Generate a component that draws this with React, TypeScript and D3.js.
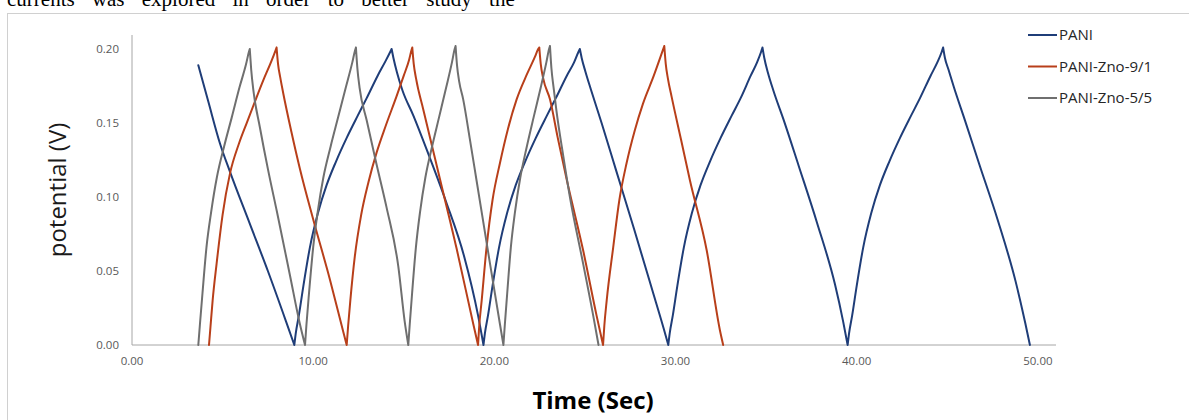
import React from "react";
import * as d3 from "d3";

const HEADER_TEXT = "currents was explored in order to better study the";

const X_TICKS = [0, 10, 20, 30, 40, 50];
const Y_TICKS = [0, 0.05, 0.1, 0.15, 0.2];

const SERIES_NAMES = ["PANI", "PANI-Zno-9/1", "PANI-Zno-5/5"];
const SERIES_COLORS = ["#1F3D78", "#B83F1A", "#6F6F6F"];

const PANI_T = [
  3.66, 4.2, 4.86, 5.41, 6.5, 7.5, 8.5, 8.96,
  9.04, 9.21, 9.46, 9.82, 10.26, 10.74, 11.26, 11.85, 12.46, 12.96, 13.56, 14.0, 14.25, 14.33,
  14.43, 14.63, 14.93, 15.53, 16.33, 17.33, 18.33, 19.1, 19.4,
  19.48, 19.65, 19.9, 20.26, 20.7, 21.18, 21.7, 22.29, 22.9, 23.4, 24.0, 24.4, 24.64, 24.72,
  24.82, 25.02, 25.32, 25.92, 26.72, 27.72, 28.72, 29.35, 29.6,
  29.68, 29.85, 30.1, 30.46, 30.9, 31.38, 31.9, 32.49, 33.1, 33.6, 34.15, 34.5, 34.72, 34.8,
  34.9, 35.1, 35.4, 36.0, 36.8, 37.8, 38.8, 39.25, 39.5,
  39.58, 39.75, 40.0, 40.36, 40.8, 41.28, 41.8, 42.39, 43.0, 43.5, 44.08, 44.45, 44.69, 44.77,
  44.87, 45.07, 45.37, 45.97, 46.77, 47.77, 48.77, 49.3, 49.56,
];
const PANI_V = [
  0.189, 0.165, 0.136, 0.117, 0.082, 0.05, 0.016, 0,
  0.008, 0.02, 0.04, 0.066, 0.089, 0.108, 0.124, 0.14, 0.155, 0.167, 0.182, 0.192, 0.198, 0.2,
  0.194, 0.184, 0.172, 0.155, 0.13, 0.097, 0.06, 0.02, 0,
  0.008, 0.02, 0.04, 0.066, 0.089, 0.108, 0.124, 0.14, 0.155, 0.167, 0.182, 0.191, 0.198, 0.2,
  0.194, 0.185, 0.173, 0.15, 0.118, 0.078, 0.037, 0.011, 0,
  0.008, 0.02, 0.04, 0.066, 0.089, 0.108, 0.124, 0.14, 0.155, 0.167, 0.182, 0.191, 0.198, 0.201,
  0.194, 0.184, 0.172, 0.151, 0.121, 0.083, 0.041, 0.016, 0,
  0.008, 0.02, 0.04, 0.066, 0.089, 0.108, 0.124, 0.14, 0.155, 0.167, 0.182, 0.191, 0.198, 0.201,
  0.194, 0.186, 0.174, 0.152, 0.122, 0.085, 0.043, 0.015, 0,
];

const ZNO91_T = [
  4.25, 4.33, 4.45, 4.67, 5.0, 5.41, 5.9, 6.33, 6.8, 7.25, 7.7, 7.92, 7.98,
  8.06, 8.18, 8.35, 8.8, 9.27, 10.0, 10.93, 11.66, 11.85,
  11.93, 12.05, 12.3, 12.65, 13.05, 13.5, 14.0, 14.6, 15.0, 15.3, 15.42, 15.47,
  15.55, 15.68, 16.08, 16.55, 17.0, 17.92, 18.84, 19.1,
  19.16, 19.3, 19.57, 19.9, 20.31, 20.75, 21.23, 21.8, 22.25, 22.42, 22.48,
  22.56, 22.7, 23.07, 23.5, 23.99, 24.9, 25.64, 26.0,
  26.07, 26.2, 26.56, 26.9, 27.3, 27.75, 28.2, 28.8, 29.15, 29.32, 29.38,
  29.46, 29.58, 29.78, 30.3, 30.8, 31.72, 32.45, 32.63,
];
const ZNO91_V = [
  0, 0.012, 0.03, 0.055, 0.088, 0.116, 0.136, 0.15, 0.165, 0.179, 0.192, 0.199, 0.201,
  0.19, 0.181, 0.17, 0.144, 0.119, 0.085, 0.044, 0.009, 0,
  0.013, 0.03, 0.06, 0.088, 0.11, 0.13, 0.148, 0.168, 0.182, 0.193, 0.199, 0.201,
  0.19, 0.18, 0.159, 0.135, 0.112, 0.065, 0.014, 0,
  0.012, 0.03, 0.066, 0.098, 0.123, 0.146, 0.166, 0.183, 0.195, 0.2, 0.201,
  0.19, 0.18, 0.166, 0.14, 0.112, 0.064, 0.02, 0,
  0.013, 0.03, 0.066, 0.098, 0.123, 0.145, 0.163, 0.182, 0.194, 0.2, 0.202,
  0.19, 0.18, 0.168, 0.139, 0.111, 0.064, 0.01, 0,
];

const ZNO55_T = [
  3.66, 3.75, 3.89, 4.11, 4.37, 4.68, 5.08, 5.51, 5.93, 6.3, 6.45, 6.5,
  6.58, 6.7, 7.06, 7.5, 8.0, 8.72, 9.27, 9.55,
  9.63, 9.77, 10.0, 10.25, 10.56, 10.96, 11.38, 11.8, 12.16, 12.31, 12.36,
  12.44, 12.56, 12.95, 13.5, 14.05, 14.7, 15.05, 15.25,
  15.33, 15.46, 15.67, 15.9, 16.19, 16.56, 16.95, 17.34, 17.66, 17.81, 17.86,
  17.94, 18.06, 18.28, 18.65, 19.02, 19.76, 20.31, 20.5,
  20.58, 20.71, 20.91, 21.14, 21.43, 21.79, 22.17, 22.56, 22.87, 23.02, 23.07,
  23.15, 23.27, 23.43, 23.8, 24.17, 24.9, 25.5, 25.75,
];
const ZNO55_V = [
  0, 0.014, 0.035, 0.066, 0.09, 0.113, 0.134, 0.154, 0.174, 0.19, 0.198, 0.2,
  0.186, 0.172, 0.147, 0.119, 0.09, 0.047, 0.014, 0,
  0.014, 0.035, 0.066, 0.09, 0.113, 0.134, 0.154, 0.174, 0.191, 0.199, 0.201,
  0.187, 0.174, 0.152, 0.122, 0.093, 0.053, 0.016, 0,
  0.014, 0.035, 0.066, 0.09, 0.113, 0.134, 0.154, 0.174, 0.191, 0.2, 0.202,
  0.189, 0.178, 0.166, 0.139, 0.111, 0.055, 0.014, 0,
  0.014, 0.035, 0.066, 0.09, 0.113, 0.134, 0.154, 0.174, 0.191, 0.2, 0.202,
  0.187, 0.174, 0.158, 0.128, 0.1, 0.055, 0.017, 0,
];

const SERIES_T = [PANI_T, ZNO91_T, ZNO55_T];
const SERIES_V = [PANI_V, ZNO91_V, ZNO55_V];

const W = 1189;
const H = 420;
const FONT = "'Open Sans', 'DejaVu Sans', sans-serif";

// split a series into monotone runs (sharing the turning points)
function monotoneRuns(pts: [number, number][]): [number, number][][] {
  const runs: [number, number][][] = [];
  let cur: [number, number][] = [pts[0]];
  let dir = 0;
  for (let k = 1; k < pts.length; k++) {
    const d = Math.sign(pts[k][1] - pts[k - 1][1]);
    if (dir !== 0 && d !== 0 && d !== dir) {
      runs.push(cur);
      cur = [pts[k - 1]];
    }
    if (d !== 0) dir = d;
    cur.push(pts[k]);
  }
  runs.push(cur);
  return runs;
}

export default function App() {
  const x = d3.scaleLinear().domain([0, 51]).range([132, 1056]);
  const y = d3.scaleLinear().domain([0, 0.2095]).range([345, 35]);
  const fmt = d3.format(".2f");

  const line = d3
    .line<[number, number]>()
    .x((d) => x(d[0]))
    .y((d) => y(d[1]))
    .curve(d3.curveMonotoneX);

  return (
    <svg
      width={W}
      height={H}
      viewBox={`0 0 ${W} ${H}`}
      style={{ position: "absolute", left: 0, top: 0, background: "#fff" }}
    >
      <rect x={0} y={0} width={W} height={H} fill="#fff" />
      <text
        x={7}
        y={6}
        fontFamily="'Liberation Serif', 'Times New Roman', serif"
        fontSize={21}
        fill="#000"
        style={{ wordSpacing: "12px" }}
      >
        {HEADER_TEXT}
      </text>
      <rect
        x={7.5}
        y={13.5}
        width={1300}
        height={600}
        fill="#fff"
        stroke="#D0D0D0"
        strokeWidth={1}
      />

      <line x1={x(0)} x2={x(0)} y1={y(0.2095)} y2={y(0)} stroke="#A6A6A6" strokeWidth={1} />
      <line x1={x(0)} x2={x(51)} y1={y(0)} y2={y(0)} stroke="#A6A6A6" strokeWidth={1} />

      {Y_TICKS.map((t) => (
        <text
          key={"y" + t}
          x={119}
          y={y(t)}
          dy="0.35em"
          textAnchor="end"
          fontFamily={FONT}
          fontSize={11.5}
          fill="#595959"
        >
          {fmt(t)}
        </text>
      ))}
      {X_TICKS.map((t) => (
        <text
          key={"x" + t}
          x={x(t)}
          y={365}
          textAnchor="middle"
          fontFamily={FONT}
          fontSize={11.5}
          fill="#595959"
        >
          {fmt(t)}
        </text>
      ))}

      {SERIES_T.map((ts, i) => {
        const pts: [number, number][] = ts.map((t, k) => [t, SERIES_V[i][k]]);
        const d = monotoneRuns(pts)
          .map((r) => line(r) || "")
          .join("");
        return (
          <path
            key={"s" + i}
            d={d}
            fill="none"
            stroke={SERIES_COLORS[i]}
            strokeWidth={2}
            strokeLinejoin="round"
            strokeLinecap="round"
          />
        );
      })}

      <text
        transform="translate(66,190) rotate(-90)"
        textAnchor="middle"
        fontFamily={FONT}
        fontSize={24}
        fill="#1a1a1a"
      >
        potential (V)
      </text>
      <text
        x={593}
        y={409}
        textAnchor="middle"
        fontFamily={FONT}
        fontSize={24}
        fontWeight="bold"
        fill="#000"
      >
        Time (Sec)
      </text>

      {SERIES_NAMES.map((name, i) => {
        const ly = 35 + i * 31.5;
        return (
          <g key={"l" + i}>
            <line x1={1028} x2={1057} y1={ly} y2={ly} stroke={SERIES_COLORS[i]} strokeWidth={2} />
            <text
              x={1059}
              y={ly}
              dy="0.35em"
              fontFamily={FONT}
              fontSize={15}
              fill="#262626"
            >
              {name}
            </text>
          </g>
        );
      })}
    </svg>
  );
}
